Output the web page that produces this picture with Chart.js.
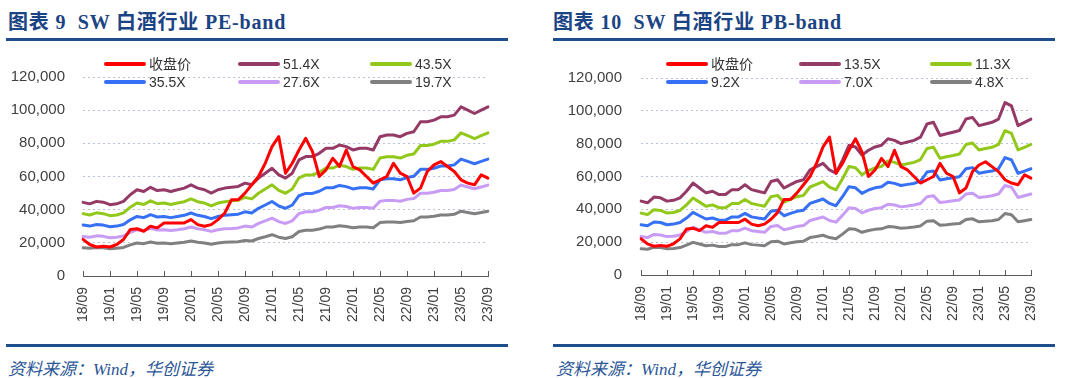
<!DOCTYPE html>
<html>
<head>
<meta charset="utf-8">
<script src="https://cdn.jsdelivr.net/npm/chart.js@4.4.0/dist/chart.umd.min.js"></script>
<style>
    body { margin: 0; width: 1080px; height: 378px; background: #fff; position: relative; overflow: hidden; }
    .title { position: absolute; top: 6px; font: bold 20px "Liberation Serif", "Noto Sans CJK SC", serif; letter-spacing: 0.8px; color: #1b4484; white-space: nowrap; }
    .rule { position: absolute; height: 3px; background: #1f4e8c; }
    .src { position: absolute; top: 355px; font: italic 17px "Liberation Serif", "Noto Sans CJK SC", serif; color: #2a5597; white-space: nowrap; }
    .box { position: absolute; top: 50px; width: 500px; height: 290px; }
    .lg { position: absolute; font: 14px "Liberation Sans", "Noto Sans CJK SC", sans-serif; color: #333; white-space: nowrap; line-height: 16px; }
    .lg i { display: inline-block; width: 42px; height: 4px; border-radius: 2px; vertical-align: middle; margin-right: 3px; position: relative; top: -1px; }
</style>
</head>
<body>

<div class="title" style="left:8px">图表 9&nbsp; SW 白酒行业 PE-band</div>
<div class="title" style="left:553px">图表 10&nbsp; SW 白酒行业 PB-band</div>
<div class="rule" style="left:6px;width:502px;top:38px"></div>
<div class="rule" style="left:553px;width:502px;top:38px"></div>
<div class="rule" style="left:6px;width:502px;top:344px"></div>
<div class="rule" style="left:553px;width:502px;top:344px"></div>
<div class="src" style="left:8px">资料来源：Wind，华创证券</div>
<div class="src" style="left:556px">资料来源：Wind，华创证券</div>

<div class="box" style="left:0px"><canvas id="chart-pe"></canvas></div>
<div class="box" style="left:540px"><canvas id="chart-pb"></canvas></div>
<div id="legend-pe"></div>
<div id="legend-pb"></div>

<script>
// monthly points, 2018/09 - 2023/09
const months = [
    '18/09','18/10','18/11','18/12',
    '19/01','19/02','19/03','19/04','19/05','19/06','19/07','19/08','19/09','19/10','19/11','19/12',
    '20/01','20/02','20/03','20/04','20/05','20/06','20/07','20/08','20/09','20/10','20/11','20/12',
    '21/01','21/02','21/03','21/04','21/05','21/06','21/07','21/08','21/09','21/10','21/11','21/12',
    '22/01','22/02','22/03','22/04','22/05','22/06','22/07','22/08','22/09','22/10','22/11','22/12',
    '23/01','23/02','23/03','23/04','23/05','23/06','23/07','23/08','23/09'
];
const yTicks = [0, 20000, 40000, 60000, 80000, 100000, 120000];

const closeName = '收盘价';
const closePrice = [
    22100, 19000, 17500, 18000, 17500, 19000, 22000, 28000, 28500, 27000, 30000, 29000,
    32000, 32000, 32000, 32000, 34000, 31000, 30000, 31000, 34000, 38000, 46000, 46000,
    50000, 55000, 60000, 68000, 78000, 84000, 62000, 68000, 76000, 83000, 75000, 60000,
    64000, 71000, 66000, 76000, 66000, 64000, 60000, 56000, 58000, 60000, 68000, 62000,
    60000, 50000, 53000, 63000, 67000, 69000, 66000, 63000, 58000, 56000, 55000, 61000, 59000
];

// PE band
const peNames = ['51.4X', '43.5X', '35.5X', '27.6X', '19.7X'];
const pe514 = [
    44400, 43500, 45000, 44500, 43000, 43500, 45000, 49000, 52000, 51000, 53500, 51500,
    52000, 51000, 52000, 53000, 55000, 53000, 52000, 50000, 52000, 53000, 53500, 54000,
    56000, 55000, 59000, 62000, 65000, 61000, 59000, 62000, 70000, 72000, 72000, 74000,
    77000, 77000, 79000, 78000, 76000, 77000, 77000, 76000, 84000, 85000, 85000, 84000,
    86000, 87000, 93000, 93000, 94000, 96000, 96000, 97000, 102000, 100000, 98000, 100000, 102000
];
const pe435 = [
    37600, 36800, 38100, 37600, 36400, 36800, 38100, 41500, 44000, 43100, 45300, 43600,
    44000, 43100, 44000, 44800, 46500, 44800, 44000, 42300, 44000, 44800, 45300, 45700,
    47400, 46500, 49900, 52500, 55000, 51600, 49900, 52500, 59200, 60900, 60900, 62600,
    65100, 65100, 66800, 66000, 64300, 65100, 65100, 64300, 71100, 71900, 71900, 71100,
    72800, 73600, 78700, 78700, 79500, 81200, 81200, 82100, 86300, 84600, 82900, 84600, 86300
];
const pe355 = [
    30700, 30100, 31100, 30700, 29700, 30100, 31100, 33900, 35900, 35200, 37000, 35600,
    35900, 35200, 35900, 36600, 38000, 36600, 35900, 34600, 35900, 36600, 37000, 37300,
    38700, 38000, 40800, 42800, 44900, 42200, 40800, 42800, 48400, 49800, 49800, 51100,
    53200, 53200, 54600, 53900, 52500, 53200, 53200, 52500, 58000, 58700, 58700, 58000,
    59400, 60100, 64300, 64300, 65000, 66300, 66300, 67000, 70500, 69100, 67700, 69100, 70500
];
const pe276 = [
    23800, 23400, 24200, 23900, 23100, 23400, 24200, 26300, 27900, 27400, 28700, 27700,
    27900, 27400, 27900, 28500, 29500, 28500, 27900, 26900, 27900, 28500, 28700, 29000,
    30100, 29500, 31700, 33300, 34900, 32800, 31700, 33300, 37600, 38700, 38700, 39700,
    41300, 41300, 42400, 41900, 40800, 41300, 41300, 40800, 45100, 45600, 45600, 45100,
    46200, 46700, 49900, 49900, 50500, 51600, 51600, 52100, 54800, 53700, 52600, 53700, 54800
];
const pe197 = [
    17000, 16700, 17200, 17000, 16500, 16700, 17200, 18800, 19900, 19500, 20500, 19700,
    19900, 19500, 19900, 20300, 21100, 20300, 19900, 19200, 19900, 20300, 20500, 20700,
    21400, 21100, 22600, 23700, 24900, 23400, 22600, 23700, 26800, 27600, 27600, 28300,
    29500, 29500, 30300, 29900, 29100, 29500, 29500, 29100, 32200, 32600, 32600, 32200,
    32900, 33300, 35600, 35600, 36000, 36800, 36800, 37200, 39100, 38300, 37500, 38300, 39100
];

// PB band
const pbNames = ['13.5X', '11.3X', '9.2X', '7.0X', '4.8X'];
const pb135 = [
    45000, 44000, 47500, 47000, 45000, 45500, 47000, 51000, 56000, 53000, 50000, 51000,
    49000, 49000, 52000, 52000, 55000, 52000, 51000, 50000, 57000, 58000, 53000, 55000,
    57000, 58000, 64000, 66000, 68000, 64000, 62000, 70000, 79000, 78000, 73000, 76000,
    78000, 79000, 83000, 82000, 80000, 81000, 82000, 84000, 92000, 93000, 85000, 86000,
    87000, 88000, 95000, 96000, 91000, 92000, 93000, 95000, 105000, 103000, 91000, 93000, 95000
];
const pb113 = [
    37700, 36800, 39800, 39300, 37700, 38100, 39300, 42700, 46900, 44400, 41900, 42700,
    41000, 41000, 43500, 43500, 46000, 43500, 42700, 41900, 47700, 48500, 44400, 46000,
    47700, 48500, 53600, 55200, 56900, 53600, 51900, 58600, 66100, 65300, 61100, 63600,
    65300, 66100, 69500, 68600, 67000, 67800, 68600, 70300, 77000, 77800, 71100, 72000,
    72800, 73700, 79500, 80400, 76200, 77000, 77800, 79500, 87900, 86200, 76200, 77800, 79500
];
const pb92 = [
    30600, 30000, 32300, 32000, 30600, 31000, 32000, 34700, 38100, 36100, 34100, 34700,
    33400, 33400, 35400, 35400, 37500, 35400, 34700, 34100, 38800, 39500, 36100, 37500,
    38800, 39500, 43600, 44900, 46300, 43600, 42200, 47700, 53800, 53100, 49700, 51800,
    53100, 53800, 56500, 55800, 54500, 55200, 55800, 57200, 62700, 63300, 57900, 58600,
    59200, 59900, 64700, 65400, 62000, 62700, 63300, 64700, 71500, 70100, 62000, 63300, 64700
];
const pb70 = [
    23400, 22800, 24700, 24400, 23400, 23600, 24400, 26500, 29100, 27500, 26000, 26500,
    25400, 25400, 27000, 27000, 28500, 27000, 26500, 26000, 29600, 30100, 27500, 28500,
    29600, 30100, 33200, 34300, 35300, 33200, 32200, 36300, 41000, 40500, 37900, 39400,
    40500, 41000, 43100, 42600, 41500, 42000, 42600, 43600, 47700, 48300, 44100, 44600,
    45200, 45700, 49300, 49800, 47200, 47700, 48300, 49300, 54500, 53500, 47200, 48300, 49300
];
const pb48 = [
    16000, 15700, 16900, 16700, 16000, 16200, 16700, 18200, 19900, 18900, 17800, 18200,
    17400, 17400, 18500, 18500, 19600, 18500, 18200, 17800, 20300, 20600, 18900, 19600,
    20300, 20600, 22800, 23500, 24200, 22800, 22100, 24900, 28100, 27800, 26000, 27100,
    27800, 28100, 29500, 29200, 28500, 28800, 29200, 29900, 32800, 33100, 30300, 30600,
    31000, 31300, 33800, 34200, 32400, 32800, 33100, 33800, 37400, 36700, 32400, 33100, 33800
];

const lineColors = ['#ff0000', '#953a67', '#92c81a', '#3570f5', '#c89cf5', '#808080'];

// short tick marks pointing up from the x axis
const tickMarks = {
    id: 'tickMarks',
    afterDraw(chart) {
        const x = chart.scales.x;
        const ctx = chart.ctx;
        ctx.save();
        ctx.strokeStyle = '#595959';
        ctx.lineWidth = 1;
        months.forEach((m, i) => {
            if (i % 4 !== 0) return;
            const px = Math.round(x.getPixelForValue(i)) + 0.5;
            ctx.beginPath();
            ctx.moveTo(px, x.top);
            ctx.lineTo(px, x.top - 5);
            ctx.stroke();
        });
        ctx.restore();
    }
};

function buildLegend(id, names, cols) {
    const rows = [64, 82];
    document.getElementById(id).innerHTML = names.map((n, i) => {
        const left = cols[i % 3];
        const top = rows[Math.floor(i / 3)] - 8;
        return `<div class="lg" style="left:${left}px;top:${top}px"><i style="background:${lineColors[i]}"></i>${n}</div>`;
    }).join('');
}

function renderBand(canvasId, bandNames, bands, yWidth, yPad, rightPad, xHeight) {
    const names = [closeName, ...bandNames];
    const series = [closePrice, ...bands];
    return new Chart(document.getElementById(canvasId), {
        type: 'line',
        data: {
            labels: months,
            datasets: series.map((s, i) => ({
                label: names[i],
                data: s,
                borderColor: lineColors[i],
                backgroundColor: lineColors[i],
                borderWidth: 3,
                pointRadius: 0,
                tension: 0,
                borderJoinStyle: 'round',
                borderCapStyle: 'round'
            }))
        },
        options: {
            responsive: true,
            maintainAspectRatio: false,
            animation: false,
            layout: { padding: { top: 24, right: rightPad, left: 0, bottom: 0 } },
            plugins: { legend: { display: false }, tooltip: { enabled: false } },
            scales: {
                x: {
                    offset: false,
                    grid: { drawOnChartArea: false, drawTicks: false },
                    border: { display: true, color: '#595959', width: 1 },
                    ticks: {
                        autoSkip: false,
                        minRotation: 90,
                        maxRotation: 90,
                        padding: 11,
                        color: '#404040',
                        font: { family: "'Liberation Sans', Arial, sans-serif", size: 14 },
                        callback: (v, i) => (i % 4 === 0 ? months[i] : null)
                    },
                    afterFit: s => {
                        s.height = xHeight;
                        s.paddingLeft = 0;
                        s.paddingRight = 0;
                    }
                },
                y: {
                    min: 0,
                    max: 120000,
                    afterBuildTicks: s => { s.ticks = yTicks.map(v => ({ value: v })); },
                    grid: {
                        drawTicks: false,
                        color: c => (c.tick && c.tick.value === 0 ? 'rgba(0,0,0,0)' : '#b7c2d6'),
                        lineWidth: 1
                    },
                    border: { display: false, dash: [2, 3] },
                    ticks: {
                        padding: yPad,
                        color: '#404040',
                        font: { family: "'Liberation Sans', Arial, sans-serif", size: 15 },
                        callback: v => v.toLocaleString('en-US')
                    },
                    afterFit: s => { s.width = yWidth; }
                }
            }
        },
        plugins: [tickMarks]
    });
}

renderBand('chart-pe', peNames, [pe514, pe435, pe355, pe276, pe197], 83, 18, 12, 64);
renderBand('chart-pb', pbNames, [pb135, pb113, pb92, pb70, pb48], 101, 19, 9, 65);
buildLegend('legend-pe', [closeName, ...peNames], [104, 238, 370]);
buildLegend('legend-pb', [closeName, ...pbNames], [666, 799, 930]);
</script>
</body>
</html>
